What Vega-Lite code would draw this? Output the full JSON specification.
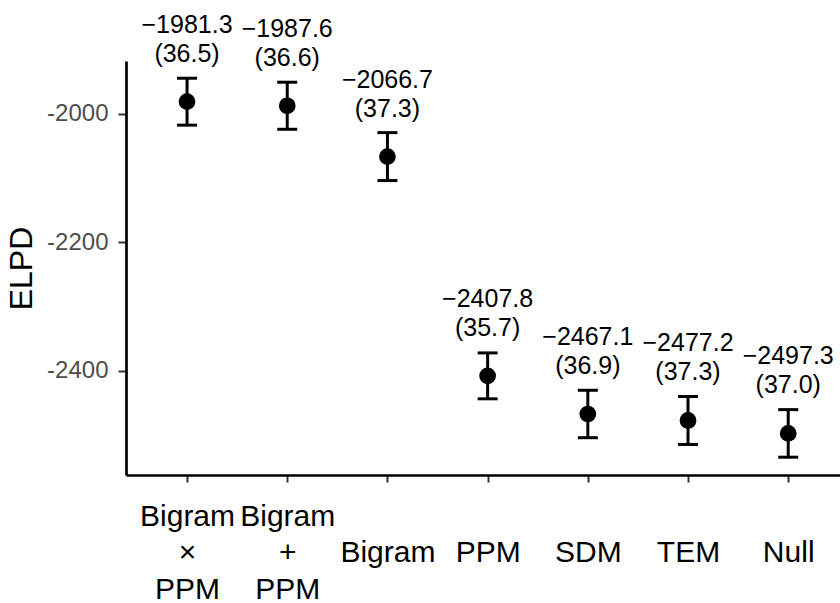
{
  "$schema": "https://vega.github.io/schema/vega-lite/v6.json",
  "width": 714,
  "height": 414,
  "autosize": {"type": "none"},
  "padding": {"left": 126, "top": 61, "right": 0, "bottom": 128},
  "background": "white",
  "config": {
    "view": {"stroke": null},
    "font": "Liberation Sans"
  },
  "data": {
    "values": [
      {"model": "Bigram × PPM", "elpd": -1981.3, "se": 36.5, "label": "−1981.3\n(36.5)"},
      {"model": "Bigram + PPM", "elpd": -1987.6, "se": 36.6, "label": "−1987.6\n(36.6)"},
      {"model": "Bigram", "elpd": -2066.7, "se": 37.3, "label": "−2066.7\n(37.3)"},
      {"model": "PPM", "elpd": -2407.8, "se": 35.7, "label": "−2407.8\n(35.7)"},
      {"model": "SDM", "elpd": -2467.1, "se": 36.9, "label": "−2467.1\n(36.9)"},
      {"model": "TEM", "elpd": -2477.2, "se": 37.3, "label": "−2477.2\n(37.3)"},
      {"model": "Null", "elpd": -2497.3, "se": 37.0, "label": "−2497.3\n(37.0)"}
    ]
  },
  "encoding": {
    "x": {
      "field": "model",
      "type": "nominal",
      "sort": null,
      "scale": {"type": "point", "padding": 0.563, "align": 0.541},
      "axis": {
        "title": null,
        "labelAngle": 0,
        "labelFont": "Liberation Sans",
        "labelFontSize": 30,
        "labelColor": "black",
        "labelBaseline": "top",
        "labelLineHeight": 36.5,
        "labelPadding": 19,
        "labelExpr": "datum.value == 'Bigram × PPM' ? ['Bigram', '×', 'PPM'] : datum.value == 'Bigram + PPM' ? ['Bigram', '+', 'PPM'] : ['', datum.value, '']",
        "labelOverlap": false,
        "labelBound": false,
        "labelFlush": false,
        "tickSize": 7,
        "tickWidth": 2,
        "tickColor": "#333333",
        "domainColor": "black",
        "domainWidth": 2.7,
        "grid": false
      }
    },
    "y": {
      "field": "elpd",
      "type": "quantitative",
      "scale": {"domain": [-2562, -1918], "nice": false, "zero": false},
      "axis": {
        "title": "ELPD",
        "titleFont": "Liberation Sans",
        "titleFontSize": 32,
        "titleFontWeight": "normal",
        "titleColor": "black",
        "titlePadding": 8,
        "values": [-2400, -2200, -2000],
        "labelExpr": "'' + datum.value",
        "labelFont": "Liberation Sans",
        "labelFontSize": 24,
        "labelColor": "#4D4D4D",
        "labelPadding": 10,
        "tickSize": 8,
        "tickWidth": 2,
        "tickColor": "#333333",
        "domainColor": "black",
        "domainWidth": 2.7,
        "grid": false
      }
    }
  },
  "layer": [
    {
      "mark": {
        "type": "errorbar",
        "ticks": {"size": 20, "thickness": 3, "color": "black", "opacity": 1},
        "rule": {"strokeWidth": 3, "color": "black", "opacity": 1},
        "thickness": 3,
        "size": 20,
        "color": "black",
        "opacity": 1
      },
      "encoding": {
        "yError": {"field": "se"}
      }
    },
    {
      "mark": {"type": "point", "filled": true, "shape": "circle", "size": 280, "color": "black", "opacity": 1}
    },
    {
      "mark": {
        "type": "text",
        "lineBreak": "\n",
        "align": "center",
        "baseline": "alphabetic",
        "dy": -69,
        "fontSize": 25,
        "lineHeight": 29,
        "font": "Liberation Sans",
        "color": "black"
      },
      "encoding": {
        "text": {"field": "label", "type": "nominal"}
      }
    }
  ]
}
